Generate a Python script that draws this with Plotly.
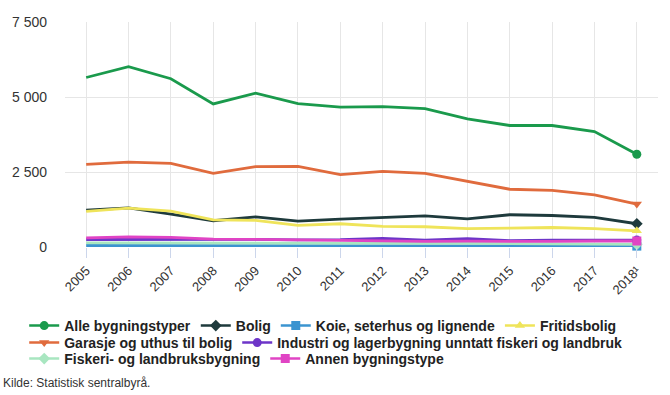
import plotly.graph_objects as go

years = ["2005", "2006", "2007", "2008", "2009", "2010", "2011", "2012",
         "2013", "2014", "2015", "2016", "2017", "2018¹"]

alle = [5650, 6010, 5610, 4770, 5130, 4780, 4660, 4680, 4610, 4270, 4050, 4050, 3850, 3090]
bolig = [1230, 1305, 1095, 875, 1005, 865, 930, 975, 1040, 940, 1075, 1050, 985, 775]
koie = [50, 50, 50, 50, 55, 55, 50, 50, 45, 45, 45, 40, 35, 30]
fritid = [1185, 1295, 1195, 905, 885, 720, 775, 685, 675, 610, 630, 650, 610, 540]
garasje = [2755, 2830, 2790, 2455, 2680, 2690, 2410, 2520, 2455, 2190, 1925, 1890, 1735, 1430]
industri = [250, 255, 255, 255, 255, 240, 245, 290, 225, 280, 215, 225, 230, 230]
fiskeri = [140, 140, 140, 140, 140, 130, 130, 120, 120, 120, 110, 110, 110, 90]
annen = [305, 335, 320, 265, 255, 235, 230, 195, 185, 195, 185, 185, 200, 200]

y_tickvals = [0, 2500, 5000, 7500]
y_ticktext = ["0", "2 500", "5 000", "7 500"]

# name, values, colour, symbol, legend row
series = [
    ("Alle bygningstyper", alle, "#1a9a4c", "circle", "legend"),
    ("Bolig", bolig, "#1e3a3c", "diamond", "legend"),
    ("Koie, seterhus og lignende", koie, "#3b94d0", "square", "legend"),
    ("Fritidsbolig", fritid, "#efe45a", "triangle-up", "legend"),
    ("Garasje og uthus til bolig", garasje, "#e06b3d", "triangle-down", "legend2"),
    ("Industri og lagerbygning unntatt fiskeri og landbruk", industri, "#6d35c8", "circle", "legend2"),
    ("Fiskeri- og landbruksbygning", fiskeri, "#a8e6c0", "diamond", "legend3"),
    ("Annen bygningstype", annen, "#e044c4", "square", "legend3"),
]

fig = go.Figure()
for name, vals, col, sym, leg in series:
    fig.add_trace(go.Scatter(
        x=years, y=vals, mode="lines", name=name, legendgroup=name,
        showlegend=False, line=dict(color=col, width=2.8), hoverinfo="skip"))
for name, vals, col, sym, leg in series:
    fig.add_trace(go.Scatter(
        x=years[-1:], y=vals[-1:], mode="lines+markers", name=name, legendgroup=name,
        legend=leg, showlegend=True, line=dict(color=col, width=2.5),
        marker=dict(symbol=sym, size=9, color=col), cliponaxis=False))

legend_font = dict(size=14, color="#222222", family="Liberation Sans, Arial, sans-serif", weight="bold")

PLOT_L, PLOT_W, PLOT_B, PLOT_H = 62, 596, 247, 225


def legend_row(top_px):
    return dict(
        orientation="h", xref="paper", yref="paper",
        x=(21 - PLOT_L) / PLOT_W, xanchor="left",
        y=(PLOT_B - top_px) / PLOT_H, yanchor="top",
        font=legend_font, itemwidth=30, tracegroupgap=0, itemsizing="trace",
        bgcolor="rgba(0,0,0,0)",
    )


fig.update_layout(
    width=670, height=395,
    margin=dict(l=62, r=12, t=22, b=148),
    paper_bgcolor="white", plot_bgcolor="white",
    font=dict(family="Liberation Sans, Arial, sans-serif", color="#333333"),
    xaxis=dict(
        type="category", range=[-0.5, 13.5],
        showgrid=True, gridcolor="#e6e6e6", gridwidth=1,
        ticks="outside", ticklen=10, tickcolor="#ccd6eb",
        tickangle=-45, tickfont=dict(size=13, color="#333333"),
        showline=False, zeroline=False,
    ),
    yaxis=dict(
        range=[0, 7500], tickvals=y_tickvals, ticktext=y_ticktext,
        showgrid=True, gridcolor="#e6e6e6", gridwidth=1,
        zeroline=False, showline=False,
        tickfont=dict(size=14, color="#333333"),
        ticklabelstandoff=17,
    ),
    legend=legend_row(310),
    legend2=legend_row(327),
    legend3=legend_row(343),
    annotations=[dict(
        text="Kilde: Statistisk sentralbyrå.", xref="paper", yref="paper",
        x=-64 / PLOT_W, y=-136 / PLOT_H, xanchor="left", yanchor="middle",
        showarrow=False, font=dict(size=12, color="#333333"))],
    showlegend=True,
)

fig.write_html("out.html", config={"displayModeBar": False},
               post_script="document.body.style.margin='0px';")
